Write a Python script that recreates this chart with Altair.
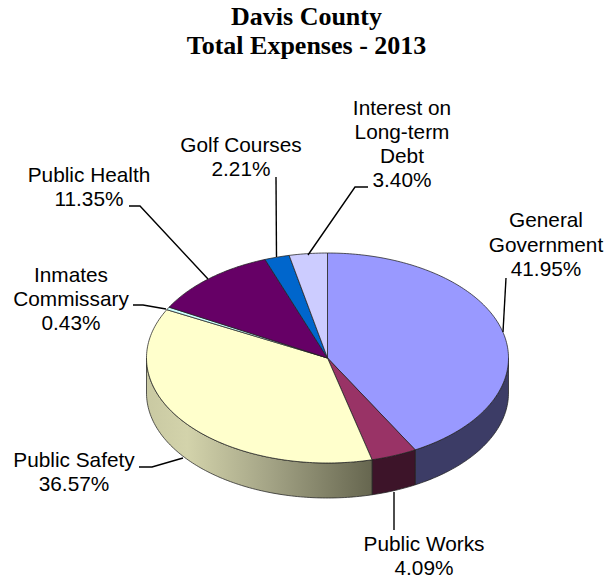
import math
import altair as alt
import pandas as pd

TITLE = ["Davis County", "Total Expenses - 2013"]
names = ["General Government", "Public Works", "Public Safety", "Inmates Commissary",
         "Public Health", "Golf Courses", "Interest on Long-term Debt"]
shares = [41.95, 4.09, 36.57, 0.43, 11.35, 2.21, 3.40]
top_colors = ["#9999FF", "#993366", "#FFFFCC", "#CCFFFF", "#660066", "#0066CC", "#CCCCFF"]

# layout of the tilted pie
CX, CY, RX, RY, DEPTH = 327.5, 358.0, 181.0, 105.0, 35.0
PAD_TOP = 65
W, H = 599, 506
x_scale = alt.Scale(domain=[8, 8 + W], nice=False, zero=False)
y_scale = alt.Scale(domain=[8 + PAD_TOP, 8 + PAD_TOP + H], reverse=True, nice=False, zero=False)

label_lines = [
    ("General", 546, 227), ("Government", 546, 252), ("41.95%", 546, 276),
    ("Public Works", 424, 551), ("4.09%", 424, 575),
    ("Public Safety", 74, 467), ("36.57%", 74, 491),
    ("Inmates", 71, 282), ("Commissary", 71, 306), ("0.43%", 71, 330),
    ("Public Health", 89, 182), ("11.35%", 89, 206),
    ("Golf Courses", 241, 152), ("2.21%", 241, 176),
    ("Interest on", 402, 115), ("Long-term", 402, 139), ("Debt", 402, 163), ("3.40%", 402, 187),
]
leaders = [
    [(506, 278), (503, 332)],
    [(394, 492), (394, 530)],
    [(139, 467), (152, 467), (183, 458)],
    [(133, 305), (143, 305), (166, 309)],
    [(129, 206), (140, 206), (208, 279)],
    [(276, 177), (276.5, 257)],
    [(368, 187), (355, 187), (308, 255)],
]


def rim(deg, dy=0.0):
    a = math.radians(deg)
    return CX + RX * math.sin(a), CY - RY * math.cos(a) + dy


def arc_angles(a, b):
    n = max(2, int(abs(b - a)) + 2)
    return [a + (b - a) * i / (n - 1) for i in range(n)]


def poly_layer(points, fill, stroke_opacity=0.75, width=1.0):
    df = pd.DataFrame({"px": [p[0] for p in points], "py": [p[1] for p in points],
                       "i": list(range(len(points)))})
    return alt.Chart(df).mark_line(fill=fill, stroke="#222222", strokeWidth=width,
                                   strokeOpacity=stroke_opacity, strokeJoin="round").encode(
        x=alt.X("px:Q", scale=x_scale, axis=None),
        y=alt.Y("py:Q", scale=y_scale, axis=None),
        order="i:Q",
    )


def side_poly(a, b):
    angs = arc_angles(a, b)
    pts = [rim(t) for t in angs] + [rim(t, DEPTH) for t in reversed(angs)]
    return pts + [pts[0]]


edges = [0.0]
for s in shares:
    edges.append(edges[-1] + s * 3.6)

safety_grad = alt.Gradient(
    gradient="linear", x1=0, x2=1, y1=0, y2=0,
    stops=[alt.GradientStop(offset=0, color="#C9C9A2"),
           alt.GradientStop(offset=0.18, color="#D3D3AB"),
           alt.GradientStop(offset=0.55, color="#A3A385"),
           alt.GradientStop(offset=1, color="#66664F")],
)
layers = [
    poly_layer(side_poly(90, edges[1]), "#3C3C66"),
    poly_layer(side_poly(edges[1], edges[2]), "#3D1429"),
    poly_layer(side_poly(edges[2], 270), safety_grad),
]
for k in range(len(shares)):
    angs = arc_angles(edges[k], edges[k + 1])
    pts = [(CX, CY)] + [rim(t) for t in angs] + [(CX, CY)]
    layers.append(poly_layer(pts, top_colors[k]))

for j, seg in enumerate(leaders):
    df = pd.DataFrame({"px": [p[0] for p in seg], "py": [p[1] for p in seg], "i": list(range(len(seg)))})
    layers.append(alt.Chart(df).mark_line(color="black", strokeWidth=1.4).encode(
        x=alt.X("px:Q", scale=x_scale, axis=None),
        y=alt.Y("py:Q", scale=y_scale, axis=None),
        order="i:Q",
    ))

labels = pd.DataFrame(label_lines, columns=["t", "px", "py"])
layers.append(alt.Chart(labels).mark_text(font="Liberation Sans", fontSize=20.8, color="black",
                                          align="center", baseline="alphabetic").encode(
    x=alt.X("px:Q", scale=x_scale, axis=None),
    y=alt.Y("py:Q", scale=y_scale, axis=None),
    text="t:N",
))

chart = alt.layer(*layers).properties(
    width=W, height=H,
    padding={"left": 0, "right": 0, "top": PAD_TOP, "bottom": 0},
    autosize=alt.AutoSizeParams(type="none"),
    title=alt.TitleParams(text=TITLE, font="Liberation Serif", fontSize=26, fontWeight="bold",
                          color="black", anchor="middle", lineHeight=28.5, offset=14.5, dx=-1),
).configure_view(stroke=None)

chart.save("out.html", embed_options={"renderer": "svg", "actions": False})
